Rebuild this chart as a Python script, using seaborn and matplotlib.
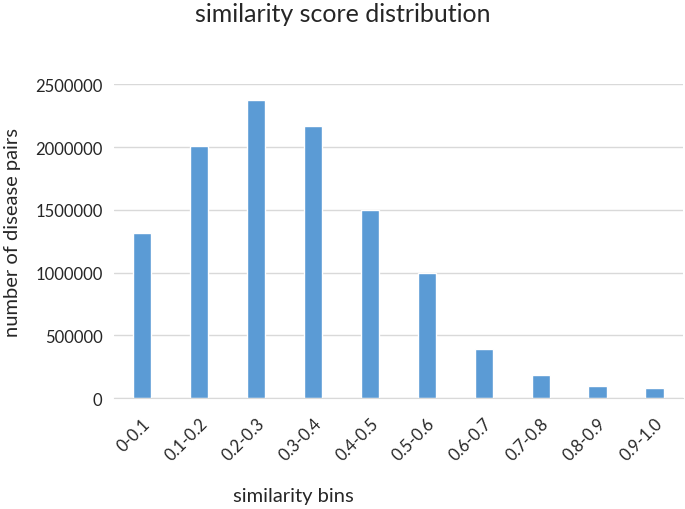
"""
Bar chart of similarity score distribution across bins.
"""
import matplotlib
matplotlib.use('Agg')
import matplotlib.pyplot as plt
import pandas as pd
import seaborn as sns

# values
bins = ['0-0.1', '0.1-0.2', '0.2-0.3', '0.3-0.4', '0.4-0.5',
        '0.5-0.6', '0.6-0.7', '0.7-0.8', '0.8-0.9', '0.9-1.0']
pair_counts = [1315000, 2005000, 2375000, 2168000, 1500000,
               1000000, 395000, 183000, 100000, 80000]
y_ticks = [0, 500000, 1000000, 1500000, 2000000, 2500000]


def main():
    """
        draw the bars and save as out.png
    """
    df = pd.DataFrame({'bin': bins, 'count': pair_counts})

    sns.set_style('white')
    plt.rcParams['font.family'] = ['Lato', 'DejaVu Sans']

    fig = plt.figure(figsize=(6.85, 5.10), dpi=100)
    ax = fig.add_axes([0.166, 0.217, 0.831, 0.616])

    sns.barplot(data=df, x='bin', y='count', color='#5B9BD5',
                width=0.32, saturation=1, ax=ax)

    # excel-like grid
    ax.set_ylim(0, 2500000)
    ax.set_yticks(y_ticks)
    ax.set_yticklabels([str(t) for t in y_ticks], fontsize=12, color='#262626')
    ax.yaxis.grid(True, color='#D9D9D9', linewidth=1)
    ax.set_axisbelow(True)
    for side in ['top', 'right', 'left']:
        ax.spines[side].set_visible(False)
    ax.spines['bottom'].set_color('#D9D9D9')
    ax.tick_params(axis='y', length=0, pad=8)
    ax.tick_params(axis='x', length=0, pad=12)
    plt.setp(ax.get_xticklabels(), rotation=45, ha='right',
             rotation_mode='anchor', fontsize=12, color='#262626')

    ax.set_xlabel('')
    ax.set_ylabel('')
    fig.text(0.018, 0.545, 'number of disease pairs', fontsize=14.5,
             rotation=90, ha='center', va='center')
    fig.text(0.428, 0.027, 'similarity bins', fontsize=14.5, ha='center',
             va='center')
    fig.text(0.5, 0.972, 'similarity score distribution', fontsize=18,
             ha='center', va='center')

    fig.savefig('out.png', dpi=100)
    plt.close(fig)


if __name__ == '__main__':
    main()
